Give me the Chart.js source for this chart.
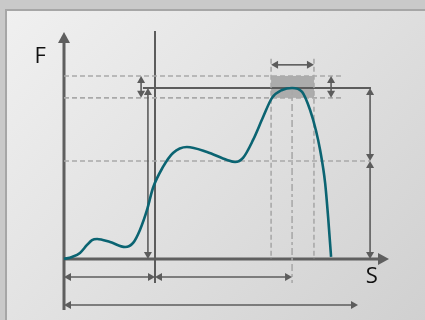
<!DOCTYPE html>
<html>
<head>
<meta charset="utf-8">
<script src="https://cdn.jsdelivr.net/npm/chart.js@4.4.0/dist/chart.umd.min.js"></script>
<style>
  html, body { margin: 0; padding: 0; }
  body { width: 425px; height: 320px; background: #c9c9c9; position: relative; overflow: hidden; }
  #panel { position: absolute; left: 5px; top: 9px; width: 420px; height: 311px;
           border-left: 2px solid #a6a6a6; border-top: 2px solid #a6a6a6;
           background: linear-gradient(135deg, #f0f0f0 0%, #e2e2e2 45%, #d0d0d0 100%); }
  #wrap { position: absolute; left: 0; top: 0; width: 425px; height: 320px; }
</style>
</head>
<body>
<div id="panel"></div>
<div id="wrap"><canvas id="myChart"></canvas></div>
<script>
// force / displacement curve (S: peak = 100, F: peak = 100)
var curveS = [0, 3.5, 7.0, 10.1, 12.3, 14.5, 20.2, 26.8, 30.3, 33.3, 36.4, 39.0, 43.4, 47.8, 53.9,
              62.7, 71.5, 75.0, 78.5, 82.9, 87.3, 91.2, 95.6, 100, 104.4, 107.9, 110.5, 112.3, 114.5, 115.8, 117.1];
var curveF = [0, 1.2, 3.5, 8.2, 11.1, 11.7, 9.9, 7.0, 9.4, 17.0, 28.7, 41.5, 53.8, 62.0, 65.5,
              62.6, 57.9, 56.7, 59.1, 69.6, 83.0, 94.2, 98.8, 100, 97.7, 87.1, 75.0, 63.7, 44.4, 24.6, 1.2];

// axis ranges and labels
var sRange = [0, 142.5];
var fRange = [0, 132.7];
var axisLabels = ['F', 'S'];

// reference levels
var fBand = [94.2, 107];     // tolerance band around peak force
var fPeak = 100;
var fMid = 57.3;
var sBand = [90.8, 109.6];   // tolerance band around peak travel
var sPeak = 100;
var sFirst = 39.9;           // first vertical marker

var colors = {
  curve: '#0b6472',
  ink: '#5c5c5c',
  dash: '#a9a9a9',
  band: 'rgba(150,150,150,0.7)',
  text: '#111111'
};

// lines: [s1, f1, s2, f2, style, arrowAtStart, arrowAtEnd]
var lines = [
  [0, -29.8, 0, 132.7, 'axis', false, true],
  [0, 0, 142.5, 0, 'axis', false, true],
  [sFirst, 133.3, sFirst, -14.0, 'solid', false, false],
  [34.6, fPeak, 134.6, fPeak, 'solid', false, false],
  [0, fBand[1], 122.4, fBand[1], 'dash', false, false],
  [0, fBand[0], 122.4, fBand[0], 'dash', false, false],
  [0, fMid, 134.2, fMid, 'dash', false, false],
  [sBand[0], 117, sBand[0], 0, 'dash', false, false],
  [sBand[1], 117, sBand[1], 0, 'dash', false, false],
  [sPeak, fPeak, sPeak, -14.0, 'dashdot', false, false],
  [sBand[0], 113.5, sBand[1], 113.5, 'arrow', true, true],
  [33.8, fBand[1], 33.8, fBand[0], 'arrow', true, true],
  [117.1, fBand[1], 117.1, fBand[0], 'arrow', true, true],
  [36.8, fPeak, 36.8, 0, 'arrow', true, true],
  [134.2, fPeak, 134.2, fMid, 'arrow', true, true],
  [134.2, fMid, 134.2, 0, 'arrow', true, true],
  [0, -10.5, sFirst, -10.5, 'arrow', true, true],
  [sFirst, -10.5, sPeak, -10.5, 'arrow', true, true],
  [0, -26.9, 128.9, -26.9, 'arrow', true, true]
];

var labelPos = [[-10.5, 118], [135, -10.5]];

function arrowHead(ctx, x1, y1, x2, y2, len, half) {
  var a = Math.atan2(y2 - y1, x2 - x1);
  ctx.beginPath();
  ctx.moveTo(x2, y2);
  ctx.lineTo(x2 - len * Math.cos(a) + half * Math.sin(a), y2 - len * Math.sin(a) - half * Math.cos(a));
  ctx.lineTo(x2 - len * Math.cos(a) - half * Math.sin(a), y2 - len * Math.sin(a) + half * Math.cos(a));
  ctx.closePath();
  ctx.fill();
}

var diagramPlugin = {
  id: 'diagram',
  beforeDatasetsDraw: function(chart) {
    var ctx = chart.ctx, xs = chart.scales.x, ys = chart.scales.y;
    ctx.save();
    // band rectangle
    var bx1 = xs.getPixelForValue(sBand[0]), bx2 = xs.getPixelForValue(sBand[1]);
    var by1 = ys.getPixelForValue(fBand[1]), by2 = ys.getPixelForValue(fBand[0]);
    ctx.fillStyle = colors.band;
    ctx.fillRect(bx1, by1, bx2 - bx1, by2 - by1);

    lines.forEach(function(l) {
      var x1 = xs.getPixelForValue(l[0]), y1 = ys.getPixelForValue(l[1]);
      var x2 = xs.getPixelForValue(l[2]), y2 = ys.getPixelForValue(l[3]);
      var style = l[4];
      ctx.setLineDash([]);
      ctx.strokeStyle = colors.ink;
      ctx.fillStyle = colors.ink;
      ctx.lineWidth = 1.6;
      if (style == 'axis') { ctx.lineWidth = 3; ctx.strokeStyle = '#5f5f5f'; ctx.fillStyle = '#5f5f5f'; }
      if (style == 'solid') { ctx.lineWidth = 2; }
      if (style == 'dash') { ctx.strokeStyle = colors.dash; ctx.lineWidth = 1.6; ctx.setLineDash([5, 3]); }
      if (style == 'dashdot') { ctx.strokeStyle = colors.dash; ctx.lineWidth = 1.6; ctx.setLineDash([7, 3, 3, 3]); }
      var sx1 = x1, sy1 = y1, sx2 = x2, sy2 = y2;
      var len = style == 'axis' ? 11 : 7;
      var half = style == 'axis' ? 6 : 4;
      var d = Math.hypot(x2 - x1, y2 - y1), ux = (x2 - x1) / d, uy = (y2 - y1) / d;
      if (l[5]) { sx1 += ux * (len - 1); sy1 += uy * (len - 1); }
      if (l[6]) { sx2 -= ux * (len - 1); sy2 -= uy * (len - 1); }
      ctx.beginPath();
      ctx.moveTo(sx1, sy1);
      ctx.lineTo(sx2, sy2);
      ctx.stroke();
      ctx.setLineDash([]);
      if (l[5]) arrowHead(ctx, x2, y2, x1, y1, len, half);
      if (l[6]) arrowHead(ctx, x1, y1, x2, y2, len, half);
    });
    ctx.restore();
  },
  afterDraw: function(chart) {
    var ctx = chart.ctx, xs = chart.scales.x, ys = chart.scales.y;
    ctx.save();
    ctx.font = '22px "Open Sans", sans-serif';
    ctx.fillStyle = colors.text;
    ctx.textAlign = 'center';
    ctx.textBaseline = 'middle';
    axisLabels.forEach(function(t, i) {
      ctx.fillText(t, xs.getPixelForValue(labelPos[i][0]), ys.getPixelForValue(labelPos[i][1]));
    });
    ctx.restore();
  }
};

var curveData = curveS.map(function(s, i) { return { x: s, y: curveF[i] }; });

var chart = new Chart(document.getElementById('myChart').getContext('2d'), {
  type: 'line',
  data: {
    datasets: [{
      label: 'F(S)',
      data: curveData,
      borderColor: colors.curve,
      borderWidth: 2.6,
      pointRadius: 0,
      fill: false,
      cubicInterpolationMode: 'monotone',
      clip: false
    }]
  },
  options: {
    responsive: true,
    maintainAspectRatio: false,
    animation: false,
    layout: { padding: { left: 64, right: 36, top: 32, bottom: 61 } },
    plugins: { legend: { display: false }, tooltip: { enabled: false } },
    scales: {
      x: { type: 'linear', min: sRange[0], max: sRange[1], display: false },
      y: { type: 'linear', min: fRange[0], max: fRange[1], display: false }
    }
  },
  plugins: [diagramPlugin]
});
</script>
</body>
</html>
